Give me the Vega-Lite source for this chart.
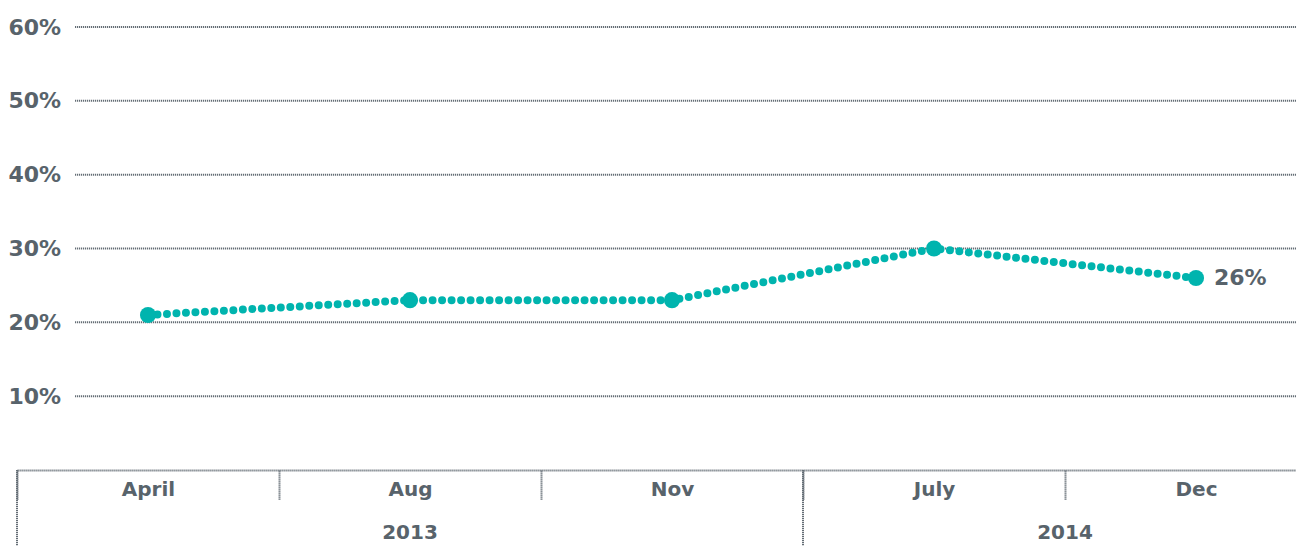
{
  "$schema": "https://vega.github.io/schema/vega-lite/v6.json",
  "width": 1310,
  "height": 443,
  "autosize": "none",
  "padding": {"left": 17, "top": 27, "right": 0, "bottom": 76},
  "config": {"view": {"stroke": null}, "font": "DejaVu Sans"},
  "datasets": {
    "series": [
      {"month": "April", "year": "2013", "value": 0.21},
      {"month": "Aug", "year": "2013", "value": 0.23},
      {"month": "Nov", "year": "2013", "value": 0.23},
      {"month": "July", "year": "2014", "value": 0.30},
      {"month": "Dec", "year": "2014", "value": 0.26}
    ],
    "grid": [
      {"g": 0.1}, {"g": 0.2}, {"g": 0.3}, {"g": 0.4}, {"g": 0.5}, {"g": 0.6}
    ],
    "years": [
      {"year": "2013", "first": "April"},
      {"year": "2014", "first": "July"}
    ]
  },
  "layer": [
    {
      "data": {"name": "grid"},
      "mark": {"type": "rule", "color": "#646d75", "strokeWidth": 2, "strokeDash": [1.2, 0.8]},
      "encoding": {
        "y": {"field": "g", "type": "quantitative", "axis": {"title": null}},
        "x": {"datum": "April", "type": "nominal", "bandPosition": 0.2214},
        "x2": {"value": "width"}
      }
    },
    {
      "data": {"name": "years"},
      "mark": {"type": "rule", "color": "#646d75", "strokeWidth": 2, "strokeDash": [1.2, 0.8], "clip": false},
      "encoding": {
        "x": {"field": "first", "type": "nominal", "bandPosition": 0},
        "y": {"datum": 0, "type": "quantitative"},
        "y2": {"datum": -0.106}
      }
    },
    {
      "data": {"name": "series"},
      "mark": {"type": "line", "color": "#00b4ae", "strokeWidth": 8, "strokeCap": "round", "strokeDash": [0, 9.5], "interpolate": "linear"},
      "encoding": {
        "x": {
          "field": "month", "type": "nominal", "bandPosition": 0.5,
          "scale": {"type": "band", "domain": ["April", "Aug", "Nov", "July", "Dec"], "paddingInner": 0, "paddingOuter": 0},
          "axis": {
            "title": null,
            "labelAngle": 0,
            "labelAlign": "center",
            "labelBaseline": "top",
            "domainDash": [1.2, 0.8],
            "domainColor": "#646d75",
            "domainWidth": 2,
            "tickBand": "extent",
            "tickDash": [1.2, 0.8],
            "tickColor": "#646d75",
            "tickWidth": 2,
            "tickSize": 30,
            "labelPadding": -21,
            "labelFontSize": 20,
            "labelFontWeight": "bold",
            "labelColor": "#58636b"
          }
        },
        "y": {
          "field": "value", "type": "quantitative",
          "scale": {"domain": [0, 0.6]},
          "axis": {
            "title": null,
            "values": [0.1, 0.2, 0.3, 0.4, 0.5, 0.6],
            "format": ".0%",
            "grid": false,
            "domain": false,
            "ticks": false,
            "tickSize": 0,
            "labelAlign": "left",
            "labelPadding": 9,
            "labelBaseline": "middle",
            "labelFontSize": 22,
            "labelFontWeight": "bold",
            "labelColor": "#58636b"
          }
        }
      }
    },
    {
      "data": {"name": "series"},
      "mark": {"type": "point", "filled": true, "opacity": 1, "color": "#00b4ae", "size": 260},
      "encoding": {
        "x": {"field": "month", "type": "nominal", "bandPosition": 0.5},
        "y": {"field": "value", "type": "quantitative"}
      }
    },
    {
      "data": {"name": "series"},
      "transform": [{"filter": "datum.month === 'Dec'"}],
      "mark": {"type": "text", "align": "left", "baseline": "middle", "dx": 18, "fontSize": 22, "fontWeight": "bold", "color": "#58636b"},
      "encoding": {
        "x": {"field": "month", "type": "nominal", "bandPosition": 0.5},
        "y": {"field": "value", "type": "quantitative"},
        "text": {"field": "value", "type": "quantitative", "format": ".0%"}
      }
    },
    {
      "data": {"name": "years"},
      "transform": [{"filter": "datum.year === '2013'"}],
      "mark": {"type": "text", "align": "center", "baseline": "middle", "fontSize": 20, "fontWeight": "bold", "color": "#58636b", "clip": false},
      "encoding": {
        "x": {"datum": "Aug", "type": "nominal", "bandPosition": 0.5},
        "y": {"datum": -0.0847, "type": "quantitative"},
        "text": {"field": "year", "type": "nominal"}
      }
    },
    {
      "data": {"name": "years"},
      "transform": [{"filter": "datum.year === '2014'"}],
      "mark": {"type": "text", "align": "center", "baseline": "middle", "fontSize": 20, "fontWeight": "bold", "color": "#58636b", "clip": false},
      "encoding": {
        "x": {"datum": "July", "type": "nominal", "bandPosition": 1},
        "y": {"datum": -0.0847, "type": "quantitative"},
        "text": {"field": "year", "type": "nominal"}
      }
    }
  ]
}
